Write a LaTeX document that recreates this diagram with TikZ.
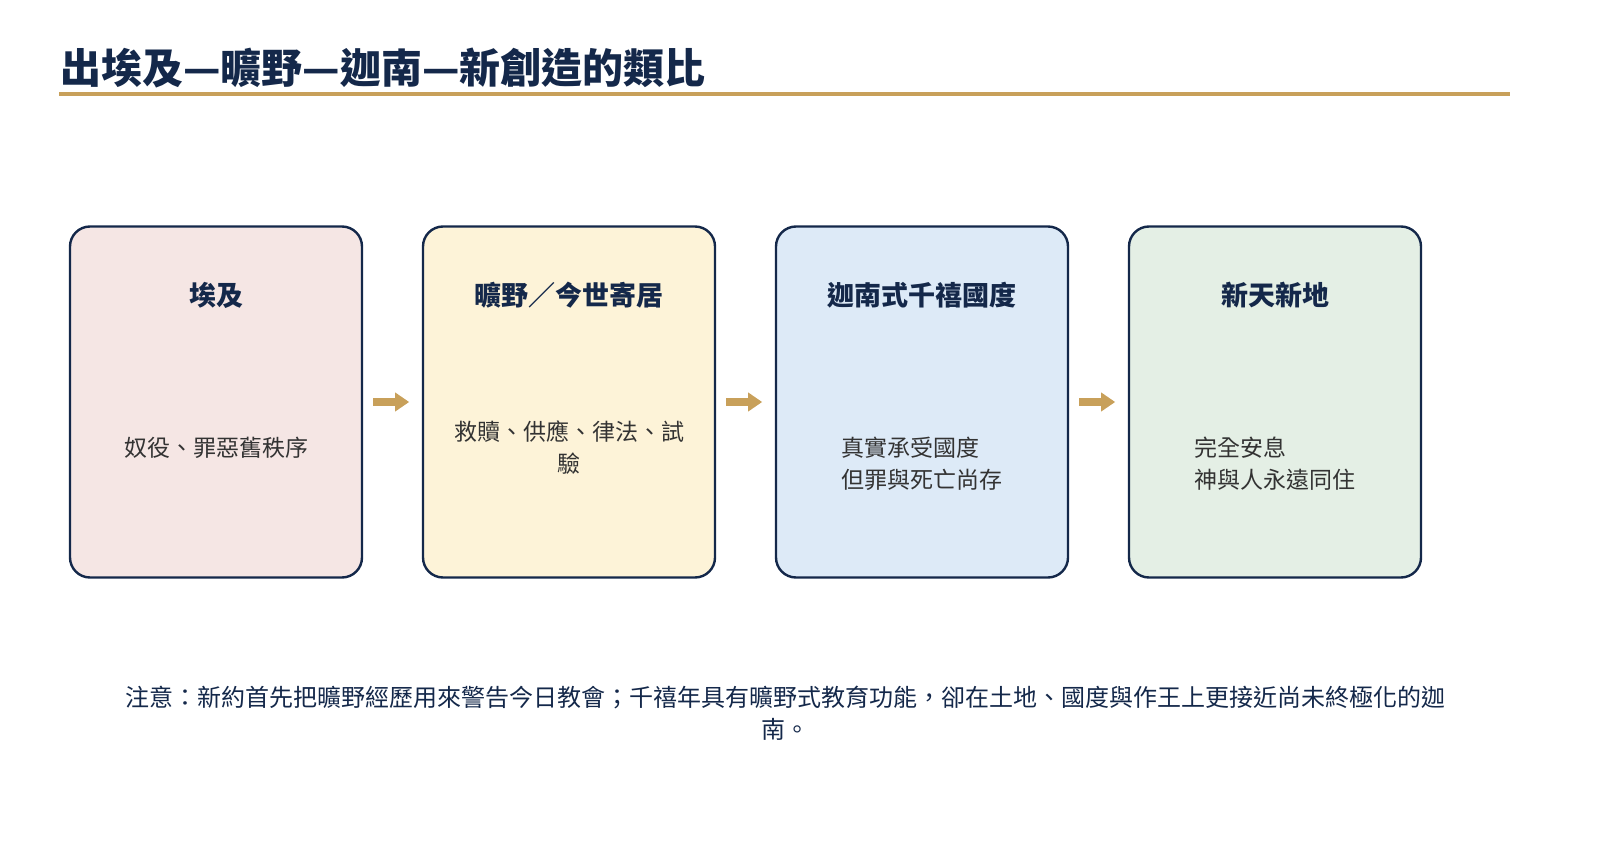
\documentclass[tikz,border=0pt]{standalone}
\usepackage{fontspec}
\setmainfont{Noto Sans CJK TC}
\usetikzlibrary{positioning,arrows.meta}
\definecolor{navy}{HTML}{14284A}
\definecolor{gold}{HTML}{C8A05A}
\definecolor{pinkbg}{HTML}{F5E6E4}
\definecolor{creambg}{HTML}{FDF3D8}
\definecolor{bluebg}{HTML}{DDEAF7}
\definecolor{greenbg}{HTML}{E4EFE5}
\tikzset{
  stage/.style={draw=navy, line width=1.2pt, rounded corners=10pt, minimum width=146pt, minimum height=175.5pt},
  head/.style={font=\bfseries\fontsize{13.5}{16}\selectfont, text=navy},
  body/.style={font=\fontsize{11.5}{16}\selectfont, text=black!80, align=left},
  flowarrow/.style={-{Triangle[length=7pt,width=9pt]}, draw=gold, line width=4pt}
}
\begin{document}
\begin{tikzpicture}[x=0.5pt,y=-0.5pt]
  \useasboundingbox (0,0) rectangle (1600,850);
  % title
  \node[anchor=base west, font=\bfseries\fontsize{20.5}{22}\selectfont, text=navy, inner sep=0pt] (title) at (60,84) {出埃及—曠野—迦南—新創造的類比};
  \draw[gold, line width=2pt] (59,94) -- (1510,94);
  % stages
  \node[stage, fill=pinkbg] (egypt) at (216,402) {};
  \node[stage, fill=creambg] (wild) at (569,402) {};
  \node[stage, fill=bluebg] (canaan) at (922,402) {};
  \node[stage, fill=greenbg] (newc) at (1275,402) {};
  \node[head] at (216,295) {埃及};
  \node[head] at (569,295) {曠野／今世寄居};
  \node[head] at (922,295) {迦南式千禧國度};
  \node[head] at (1275,295) {新天新地};
  \node[body] at (216,448) {奴役、罪惡舊秩序};
  \node[body, align=center] at (569,448) {救贖、供應、律法、試\\驗};
  \node[body] at (922,464) {真實承受國度\\但罪與死亡尚存};
  \node[body] at (1275,464) {完全安息\\神與人永遠同住};
  % arrows
  \draw[flowarrow] (egypt.east) ++(10,0) -- ++(36,0);
  \draw[flowarrow] (wild.east) ++(10,0) -- ++(36,0);
  \draw[flowarrow] (canaan.east) ++(10,0) -- ++(36,0);
  % note
  \node[font=\fontsize{12}{16}\selectfont, text=navy, align=center, text width=680pt] (note) at (785,713) {注意：新約首先把曠野經歷用來警告今日教會；千禧年具有曠野式教育功能，卻在土地、國度與作王上更接近尚未終極化的迦\\南。};
\end{tikzpicture}
\end{document}
